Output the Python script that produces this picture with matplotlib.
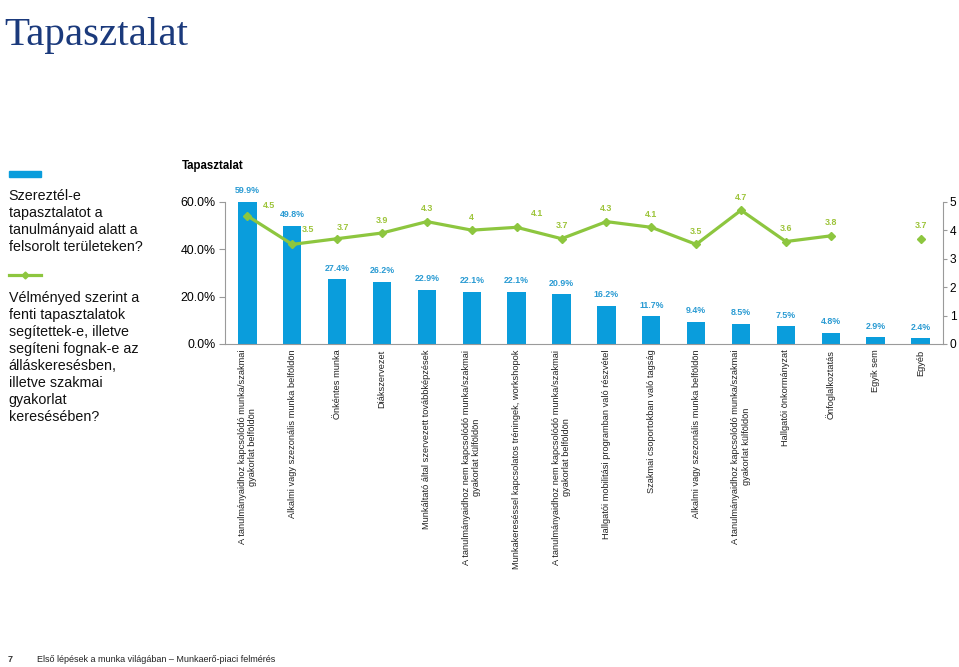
import numpy as np
import matplotlib
matplotlib.use("Agg")
import matplotlib.pyplot as plt

plt.rcParams['font.family'] = ['Liberation Sans', 'DejaVu Sans']

# adatok
kategoriak = [
    "A tanulmányaidhoz kapcsolódó munka/szakmai\ngyakorlat belföldön",
    "Alkalmi vagy szezonális munka belföldön",
    "Önkéntes munka",
    "Diákszervezet",
    "Munkáltató által szervezett továbbképzések",
    "A tanulmányaidhoz nem kapcsolódó munka/szakmai\ngyakorlat külföldön",
    "Munkakereséssel kapcsolatos tréningek, workshopok",
    "A tanulmányaidhoz nem kapcsolódó munka/szakmai\ngyakorlat belföldön",
    "Hallgatói mobilitási programban való részvétel",
    "Szakmai csoportokban való tagság",
    "Alkalmi vagy szezonális munka belföldön",
    "A tanulmányaidhoz kapcsolódó munka/szakmai\ngyakorlat külföldön",
    "Hallgatói önkormányzat",
    "Önfoglalkoztatás",
    "Egyik sem",
    "Egyéb",
]
tapasztalat = [59.9, 49.8, 27.4, 26.2, 22.9, 22.1, 22.1, 20.9, 16.2, 11.7, 9.4, 8.5, 7.5, 4.8, 2.9, 2.4]
velemeny = [4.5, 3.5, 3.7, 3.9, 4.3, 4, 4.1, 3.7, 4.3, 4.1, 3.5, 4.7, 3.6, 3.8, np.nan, 3.7]
velemeny_cimke = ["4.5", "3.5", "3.7", "3.9", "4.3", "4", "4.1", "3.7", "4.3", "4.1", "3.5", "4.7", "3.6", "3.8", "", "3.7"]

kek = '#0A9DDC'
kek_szoveg = '#2A9BD3'
zold = '#8DC63F'
zold_szoveg = '#9DC43A'
szurke = '#9A9A9A'

fig = plt.figure(figsize=(9.59, 6.67), dpi=100)

# fo cim
fig.text(0.004, 0.975, "Tapasztalat", family=['Liberation Serif', 'DejaVu Serif'],
         fontsize=29.5, color='#1B3A7C', va='top', ha='left')

ax = fig.add_axes([0.2346, 0.4843, 0.7487, 0.2133])
x = np.arange(len(kategoriak))
ax.bar(x, np.array(tapasztalat) / 100, width=0.41, color=kek, zorder=2)
ax.set_xlim(-0.5, len(kategoriak) - 0.5)
ax.set_ylim(0, 0.6)
ax.set_yticks([0, 0.2, 0.4, 0.6])
ax.set_yticklabels(["0.0%", "20.0%", "40.0%", "60.0%"], fontsize=8.9)
ax.set_xticks(x)
ax.set_xticklabels(kategoriak, rotation=90, fontsize=6.7, color='#222222',
                   ha='center', va='top', multialignment='center')
ax.tick_params(axis='x', length=0, pad=4)
ax.tick_params(axis='y', direction='out', length=4, color=szurke, pad=3)
for s in ['top', 'right']:
    ax.spines[s].set_visible(False)
for s in ['left', 'bottom']:
    ax.spines[s].set_color(szurke)

for i, v in enumerate(tapasztalat):
    ax.annotate("%.1f%%" % v, (i, v / 100), xytext=(0, 11), textcoords='offset pixels',
                ha='center', va='center', fontsize=6.4, fontweight='bold',
                color=kek_szoveg, annotation_clip=False)

ax2 = ax.twinx()
ax2.plot(x, velemeny, color=zold, lw=2.3, marker='D', markersize=4.2, zorder=3)
ax2.set_ylim(0, 5)
ax2.set_yticks(range(6))
ax2.tick_params(axis='y', direction='out', length=3, color=szurke, pad=2, labelsize=8.6)
for s in ['top', 'left', 'bottom']:
    ax2.spines[s].set_visible(False)
ax2.spines['right'].set_color(szurke)

eltolas = {0: (22, 10), 1: (16, 15), 2: (6, 11), 6: (20, 14)}
for i, (v, c) in enumerate(zip(velemeny, velemeny_cimke)):
    if not c:
        continue
    dx, dy = eltolas.get(i, (0, 13))
    ax2.annotate(c, (i, v), xytext=(dx, dy), textcoords='offset pixels',
                 ha='center', va='center', fontsize=6.4, fontweight='bold',
                 color=zold_szoveg, annotation_clip=False)

# diagram cim
fig.text(0.19, 0.751, "Tapasztalat", fontsize=8.3, fontweight='bold', va='center', ha='left')

# jelmagyarazat bal oldalon
fig.patches.append(plt.Rectangle((0.009, 0.734), 0.034, 0.0095, transform=fig.transFigure,
                                 color=kek, figure=fig))
fig.lines.append(plt.Line2D([0.009, 0.026, 0.043], [0.588, 0.588, 0.588],
                            transform=fig.transFigure, color=zold, lw=2.3, marker='D',
                            markersize=3.5, markevery=[1], figure=fig))

fig.text(0.009, 0.716,
         "Szereztél-e\ntapasztalatot a\ntanulmányaid alatt a\nfelsorolt területeken?",
         fontsize=10.3, linespacing=1.27, va='top', ha='left', color='#111111')
fig.text(0.009, 0.563,
         "Vélményed szerint a\nfenti tapasztalatok\nsegítettek-e, illetve\nsegíteni fognak-e az\n"
         "álláskeresésben,\nilletve szakmai\ngyakorlat\nkeresésében?",
         fontsize=10.3, linespacing=1.27, va='top', ha='left', color='#111111')

# lablec
fig.text(0.008, 0.011, "7", fontsize=6.5, fontweight='bold', color='#333333', va='center')
fig.text(0.039, 0.011, "Első lépések a munka világában – Munkaerő-piaci felmérés",
         fontsize=6.5, color='#222222', va='center')

fig.savefig("out.png", dpi=100)
